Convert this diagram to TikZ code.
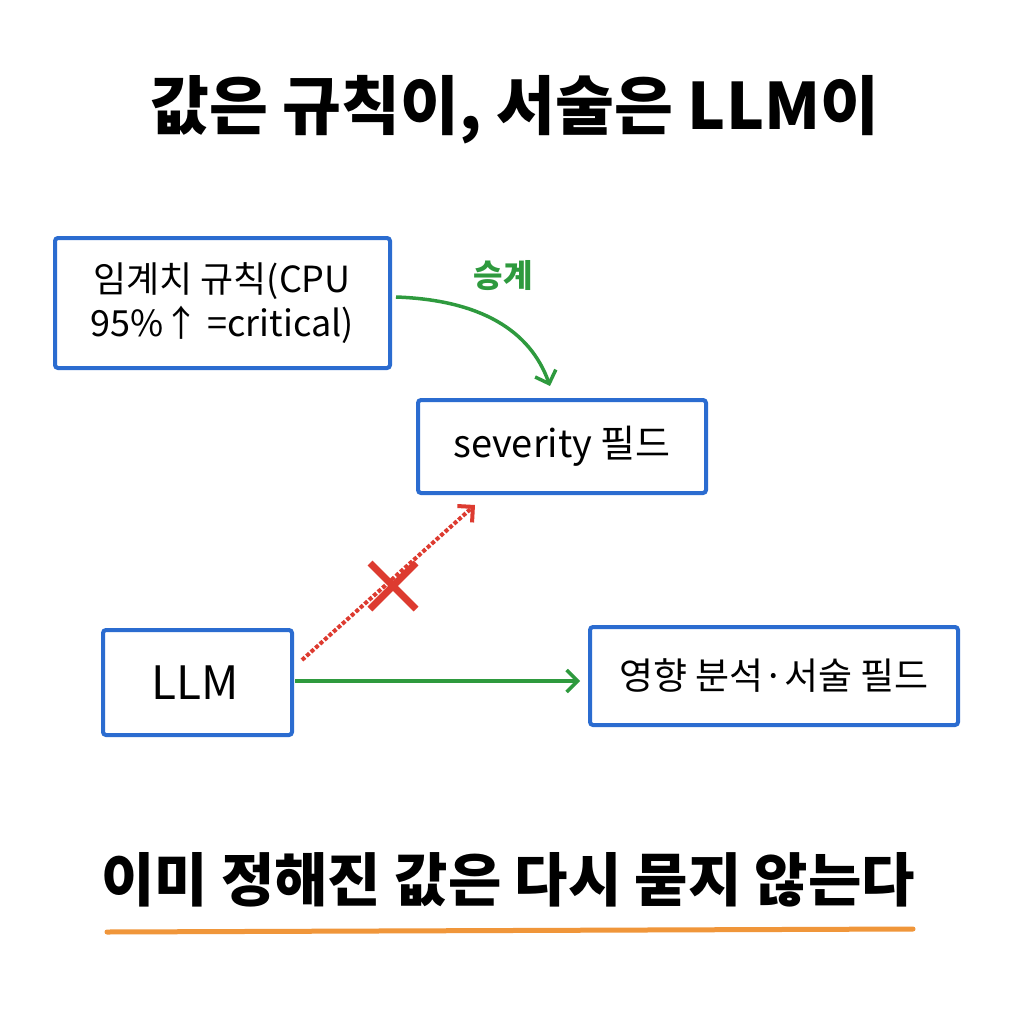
\documentclass[tikz,border=0pt]{standalone}
\usepackage{fontspec}
\setmainfont{Noto Sans CJK KR}
\usetikzlibrary{arrows.meta}
\definecolor{bx}{HTML}{2B6CD0}
\definecolor{gr}{HTML}{2E9A3E}
\definecolor{rd}{HTML}{DD3B30}
\definecolor{og}{HTML}{F0963A}
\begin{document}
\begin{tikzpicture}[x=1pt,y=-1pt,
  box/.style={draw=bx, line width=4pt, rounded corners=3pt},
  garr/.style={draw=gr, line width=3.5pt, -{Straight Barb[length=11pt,width=22pt]}},
  rarr/.style={draw=rd, line width=4pt, dotted, -{Straight Barb[length=11pt,width=22pt]}}]
\useasboundingbox (0,0) rectangle (1024,1024);
\fill[white] (0,0) rectangle (1024,1024);
\node[font=\bfseries\fontsize{64}{68}\selectfont] (title) at (515,110) {값은 규칙이, 서술은 LLM이};
\draw[box] (55,238) rectangle (390,368);
\node[align=center,font=\fontsize{36}{44}\selectfont] (rule) at (222,303) {임계치 규칙(CPU\\95\%↑ =critical)};
\draw[box] (418,400) rectangle (706,493);
\node[font=\fontsize{38}{44}\selectfont] (sev) at (562,446) {severity 필드};
\draw[box] (103,630) rectangle (292,735);
\node[font=\fontsize{46}{50}\selectfont] (llm) at (195,683) {LLM};
\draw[box] (590,627) rectangle (958,725);
\node[font=\fontsize{37}{42}\selectfont] (imp) at (774,676) {영향 분석·서술 필드};
\coordinate (a1) at (396,297);
\coordinate (a2) at (550,386);
\draw[garr] (a1) .. controls (480,300) and (530,330) .. (a2);
\node[text=gr,font=\bfseries\fontsize{32}{36}\selectfont] (lab) at (503,276) {승계};
\coordinate (r1) at (302,660);
\coordinate (r2) at (475,505);
\draw[rarr] (r1) -- (r2);
\draw[rd, line width=7pt] (370,563) -- (416,609) (416,563) -- (370,609);
\coordinate (g1) at (295,681);
\coordinate (g2) at (580,681);
\draw[garr] (g1) -- (g2);
\node[font=\bfseries\fontsize{58}{62}\selectfont] (bot) at (508,880) {이미 정해진 값은 다시 묻지 않는다};
\draw[og, line width=5pt, line cap=round] (107,932) -- (913,929);
\end{tikzpicture}
\end{document}
